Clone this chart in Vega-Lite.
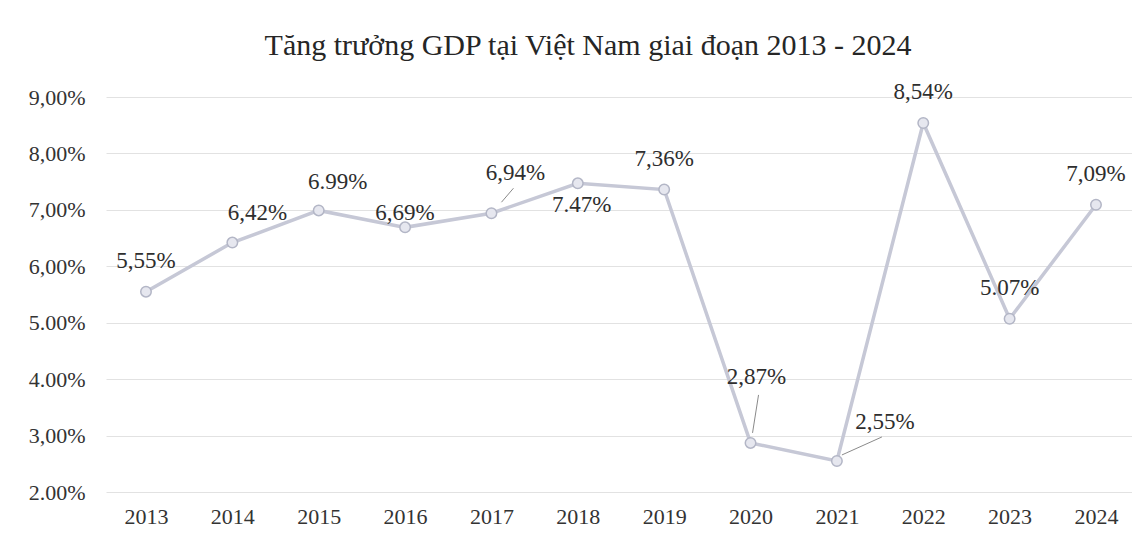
{
  "$schema": "https://vega.github.io/schema/vega-lite/v6.json",
  "autosize": "none",
  "width": 1026,
  "height": 395,
  "padding": {"left": 106, "top": 97, "right": 0, "bottom": 51},
  "background": "white",
  "config": {
    "font": "Times New Roman",
    "view": {"stroke": null},
    "axis": {"labelFont": "Times New Roman", "labelColor": "#333333"},
    "text": {"font": "Times New Roman"}
  },
  "title": {
    "text": "Tăng trưởng GDP tại Việt Nam giai đoạn 2013 - 2024",
    "font": "Liberation Serif",
    "fontSize": 30,
    "fontWeight": "normal",
    "color": "#262626",
    "anchor": "middle",
    "dx": -31,
    "offset": 20
  },
  "data": {
    "values": [
      {"year": 2013, "value": 5.55, "label": "5,55%"},
      {"year": 2014, "value": 6.42, "label": "6,42%"},
      {"year": 2015, "value": 6.99, "label": "6.99%"},
      {"year": 2016, "value": 6.69, "label": "6,69%"},
      {"year": 2017, "value": 6.94, "label": "6,94%"},
      {"year": 2018, "value": 7.47, "label": "7.47%"},
      {"year": 2019, "value": 7.36, "label": "7,36%"},
      {"year": 2020, "value": 2.87, "label": "2,87%"},
      {"year": 2021, "value": 2.55, "label": "2,55%"},
      {"year": 2022, "value": 8.54, "label": "8,54%"},
      {"year": 2023, "value": 5.07, "label": "5.07%"},
      {"year": 2024, "value": 7.09, "label": "7,09%"}
    ]
  },
  "encoding": {
    "x": {
      "field": "year",
      "type": "quantitative",
      "scale": {"domain": [2012.537, 2024.417], "nice": false, "zero": false},
      "axis": {
        "title": null,
        "values": [2013, 2014, 2015, 2016, 2017, 2018, 2019, 2020, 2021, 2022, 2023, 2024],
        "format": "d",
        "grid": false,
        "ticks": false,
        "domain": false,
        "labelFont": "serif",
        "labelFontSize": 22,
        "labelPadding": 14,
        "labelFlush": false
      }
    },
    "y": {
      "field": "value",
      "type": "quantitative",
      "scale": {"domain": [2, 9], "nice": false, "zero": false},
      "axis": {
        "title": null,
        "values": [2, 3, 4, 5, 6, 7, 8, 9],
        "labelExpr": "(datum.value==5||datum.value==4||datum.value==2) ? format(datum.value,'.2f')+'%' : replace(format(datum.value,'.2f'),'.',',')+'%'",
        "grid": true,
        "gridColor": "#e2e2e2",
        "gridWidth": 1,
        "ticks": false,
        "domain": false,
        "labelFont": "Liberation Serif",
        "labelFontSize": 22,
        "labelPadding": 21
      }
    }
  },
  "layer": [
    {"mark": {"type": "line", "color": "#c6c8d6", "strokeWidth": 3.5}},
    {"mark": {"type": "point", "shape": "circle", "filled": true, "size": 110, "fill": "#e6e7ef", "stroke": "#b3b6c6", "strokeWidth": 1.5, "opacity": 1}},
    {
      "transform": [{"filter": "datum.year==2017"}],
      "mark": {"type": "rule", "color": "#8a8a8a", "strokeWidth": 1, "xOffset": 10, "yOffset": -11, "x2Offset": 22, "y2Offset": -25},
      "encoding": {"x2": {"field": "year"}, "y2": {"field": "value"}}
    },
    {
      "transform": [{"filter": "datum.year==2020"}],
      "mark": {"type": "rule", "color": "#8a8a8a", "strokeWidth": 1, "xOffset": 2, "yOffset": -10, "x2Offset": 8, "y2Offset": -48},
      "encoding": {"x2": {"field": "year"}, "y2": {"field": "value"}}
    },
    {
      "transform": [{"filter": "datum.year==2021"}],
      "mark": {"type": "rule", "color": "#8a8a8a", "strokeWidth": 1, "xOffset": 5, "yOffset": -6, "x2Offset": 45, "y2Offset": -24},
      "encoding": {"x2": {"field": "year"}, "y2": {"field": "value"}}
    },
    {
      "transform": [{"filter": "indexof([2013,2019,2022,2023,2024], datum.year) >= 0"}],
      "mark": {"type": "text", "font": "Liberation Serif", "fontSize": 23, "color": "#2e2e2e", "dx": 0, "dy": -31, "baseline": "middle", "align": "center"},
      "encoding": {"text": {"field": "label"}}
    },
    {
      "transform": [{"filter": "datum.year==2014"}],
      "mark": {"type": "text", "fontSize": 23, "color": "#2e2e2e", "dx": 25, "dy": -30, "baseline": "middle", "align": "center"},
      "encoding": {"text": {"field": "label"}}
    },
    {
      "transform": [{"filter": "datum.year==2015"}],
      "mark": {"type": "text", "fontSize": 23, "color": "#2e2e2e", "dx": 19, "dy": -28, "baseline": "middle", "align": "center"},
      "encoding": {"text": {"field": "label"}}
    },
    {
      "transform": [{"filter": "datum.year==2016"}],
      "mark": {"type": "text", "fontSize": 23, "color": "#2e2e2e", "dx": 0, "dy": -14, "baseline": "middle", "align": "center"},
      "encoding": {"text": {"field": "label"}}
    },
    {
      "transform": [{"filter": "datum.year==2017"}],
      "mark": {"type": "text", "fontSize": 23, "color": "#2e2e2e", "dx": 24, "dy": -40, "baseline": "middle", "align": "center"},
      "encoding": {"text": {"field": "label"}}
    },
    {
      "transform": [{"filter": "datum.year==2018"}],
      "mark": {"type": "text", "fontSize": 23, "color": "#2e2e2e", "dx": 4, "dy": 22, "baseline": "middle", "align": "center"},
      "encoding": {"text": {"field": "label"}}
    },
    {
      "transform": [{"filter": "datum.year==2020"}],
      "mark": {"type": "text", "fontSize": 23, "color": "#2e2e2e", "dx": 6, "dy": -66, "baseline": "middle", "align": "center"},
      "encoding": {"text": {"field": "label"}}
    },
    {
      "transform": [{"filter": "datum.year==2021"}],
      "mark": {"type": "text", "fontSize": 23, "color": "#2e2e2e", "dx": 48, "dy": -39, "baseline": "middle", "align": "center"},
      "encoding": {"text": {"field": "label"}}
    }
  ]
}
